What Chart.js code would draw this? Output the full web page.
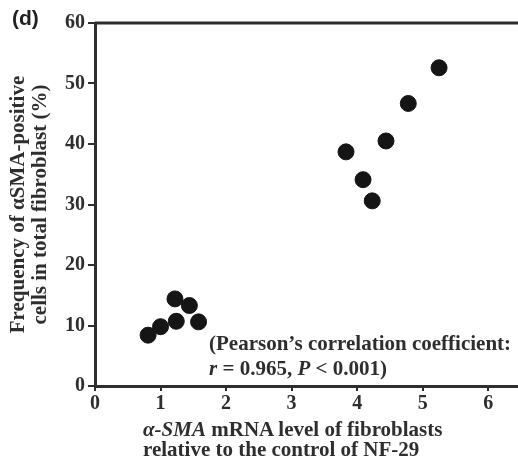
<!DOCTYPE html>
<html>
<head>
<meta charset="utf-8">
<script src="https://cdn.jsdelivr.net/npm/chart.js@4.4.0/dist/chart.umd.min.js"></script>
<style>
  html, body { margin: 0; padding: 0; background: #fff; }
  #wrap { position: relative; width: 518px; height: 466px; overflow: hidden; }
  canvas { position: absolute; left: 0; top: 0; }
  .lbl { position: absolute; white-space: nowrap; color: #2e2e2e; }
  .serif { font-family: 'Liberation Serif', 'Times New Roman', serif; font-weight: bold; font-size: 21px; }
  #panel { left: 12px; top: 6px; font-family: 'Liberation Sans', Arial, sans-serif; font-weight: bold; font-size: 21px; color: #222; }
  #note { left: 209px; top: 331px; line-height: 25px; }
  #xtitle { left: 143px; top: 419px; line-height: 20px; }
</style>
</head>
<body>
<div id="wrap">
  <!-- canvas runs past the right edge: the frame is cropped there in the original -->
  <canvas id="chart" width="530" height="466"></canvas>
  <div id="panel" class="lbl">(d)</div>
  <div id="note" class="lbl serif">(Pearson’s correlation coefficient:<br><i>r</i> = 0.965, <i>P</i> &lt; 0.001)</div>
  <div id="xtitle" class="lbl serif"><i>α-SMA</i> mRNA level of fibroblasts<br>relative to the control of NF-29</div>
</div>
<script>
// mRNA level (x) vs frequency of aSMA-positive cells (y)
const mrnaLevel = [0.81, 1.0, 1.22, 1.24, 1.44, 1.58, 3.83, 4.09, 4.23, 4.44, 4.78, 5.25];
const smaFrequency = [8.4, 9.8, 14.4, 10.7, 13.3, 10.6, 38.7, 34.1, 30.6, 40.5, 46.7, 52.6];
const yTitle = ['Frequency of αSMA-positive', 'cells in total fibroblast (%)'];

const ink = '#2e2e2e';
const serif = "'Liberation Serif', 'Times New Roman', serif";
const tickFont = { family: serif, weight: 'bold', size: 20 };

// top frame line
const topFrame = {
    id: 'topFrame',
    afterDraw(chart) {
        const { ctx, chartArea } = chart;
        ctx.save();
        ctx.strokeStyle = ink;
        ctx.lineWidth = 3;
        ctx.beginPath();
        ctx.moveTo(chartArea.left, chartArea.top);
        ctx.lineTo(chartArea.right + 10, chartArea.top);
        ctx.stroke();
        ctx.restore();
    }
};

new Chart(document.getElementById('chart'), {
    type: 'scatter',
    data: {
        datasets: [{
            data: mrnaLevel.map((x, i) => ({ x, y: smaFrequency[i] })),
            backgroundColor: '#151515',
            borderColor: '#151515',
            pointRadius: 8,
            pointHoverRadius: 8
        }]
    },
    options: {
        responsive: false,
        animation: false,
        layout: { padding: { top: 23, right: 0, left: 0, bottom: 0 } },
        plugins: { legend: { display: false }, tooltip: { enabled: false } },
        scales: {
            x: {
                type: 'linear',
                min: 0,
                max: 6.5,
                afterFit: s => { s.height = 80; },
                ticks: { stepSize: 1, includeBounds: false, autoSkip: false, color: ink, font: tickFont, padding: 1 },
                grid: { drawOnChartArea: false, drawTicks: true, tickLength: 5, color: ink, lineWidth: 2 },
                border: { display: true, color: ink, width: 3 }
            },
            y: {
                min: 0,
                max: 60,
                afterFit: s => { s.width = 95; },
                ticks: { stepSize: 10, color: ink, font: tickFont, padding: 3 },
                grid: { drawOnChartArea: false, drawTicks: true, tickLength: 7, color: ink, lineWidth: 2 },
                border: { display: true, color: ink, width: 3 },
                title: {
                    display: true,
                    text: yTitle,
                    color: ink,
                    font: { family: serif, weight: 'bold', size: 21, lineHeight: 1.05 },
                    padding: { top: 8, bottom: 2 }
                }
            }
        }
    },
    plugins: [topFrame]
});
</script>
</body>
</html>
